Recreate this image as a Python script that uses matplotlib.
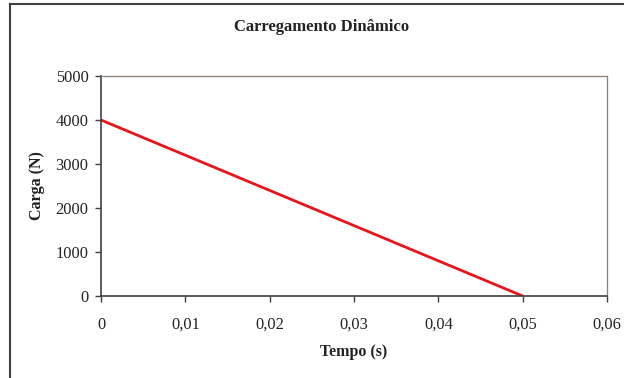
import matplotlib.pyplot as plt
from matplotlib.lines import Line2D

plt.rcParams["font.family"] = ["Liberation Serif", "DejaVu Serif"]
plt.rcParams["text.color"] = "#222222"
plt.rcParams["xtick.labelcolor"] = "#222222"
plt.rcParams["ytick.labelcolor"] = "#222222"

tempo = [0, 0.05]
carga = [4000, 0]
x_ticks = [0, 0.01, 0.02, 0.03, 0.04, 0.05, 0.06]
x_tick_labels = ["0", "0,01", "0,02", "0,03", "0,04", "0,05", "0,06"]
y_ticks = [0, 1000, 2000, 3000, 4000, 5000]
y_tick_labels = ["0", "1000", "2000", "3000", "4000", "5000"]

fig = plt.figure(figsize=(6.24, 3.78), dpi=100)
ax = fig.add_axes([101/624, 1 - 296/378, (607 - 101)/624, (296 - 76)/378])

ax.plot(tempo, carga, color="#e8141c", lw=2)
ax.set_xlim(0, 0.06)
ax.set_ylim(0, 5000)
ax.set_xticks(x_ticks)
ax.set_xticklabels(x_tick_labels)
ax.set_yticks(y_ticks)
ax.set_yticklabels(y_tick_labels)
ax.tick_params(axis="x", length=4, width=1, color="#404040", pad=11, labelsize=11.8)
ax.tick_params(axis="y", length=4, width=1, color="#404040", pad=5, labelsize=11.8)

for s in ["left", "bottom"]:
    ax.spines[s].set_color("#404040")
    ax.spines[s].set_linewidth(1.2)
for s in ["top", "right"]:
    ax.spines[s].set_color("#8c7f75")
    ax.spines[s].set_linewidth(0.9)

fig.text(322/624, 1 - 27/378, "Carregamento Dinâmico", ha="center", va="center",
         fontsize=12, fontweight="bold")
fig.text(354/624, 1 - 352/378, "Tempo (s)", ha="center", va="center",
         fontsize=11.5, fontweight="bold")
fig.text(37/624, 1 - 186/378, "Carga (N)", ha="center", va="center",
         fontsize=11.5, fontweight="bold", rotation=90)

# moldura do gráfico (só aparecem a esquerda e o topo)
fig.add_artist(Line2D([9.5/624, 9.5/624], [0, 1 - 3.5/378], transform=fig.transFigure,
                      color="#404040", lw=1.5))
fig.add_artist(Line2D([9.5/624, 1], [1 - 3.5/378, 1 - 3.5/378], transform=fig.transFigure,
                      color="#404040", lw=1.5))

fig.savefig("out.png", dpi=100)
